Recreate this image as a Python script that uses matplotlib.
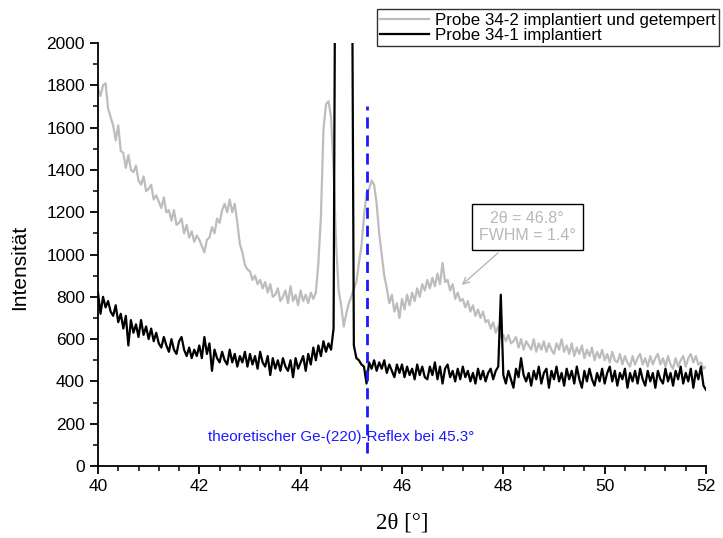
import numpy as np
import matplotlib
matplotlib.use("Agg")
import matplotlib.pyplot as plt

plt.rcParams['font.family'] = ['Liberation Sans', 'DejaVu Sans']

# 2theta grid (degrees)
two_theta = np.round(np.arange(40.0, 52.0001, 0.05), 2)

probe_34_2 = [
    1785, 1750, 1800, 1810, 1690, 1650, 1610, 1540, 1610, 1490,
    1480, 1410, 1470, 1400, 1390, 1420, 1350, 1330, 1370, 1300,
    1310, 1330, 1260, 1280, 1250, 1220, 1270, 1200, 1210, 1160,
    1210, 1140, 1150, 1170, 1100, 1140, 1080, 1110, 1060, 1090,
    1070, 1040, 1010, 1070, 1080, 1130, 1100, 1170, 1150, 1210,
    1240, 1200, 1260, 1200, 1240, 1150, 1050, 1010, 950, 930,
    920, 880, 900, 860, 880, 840, 870, 820, 860, 800,
    810, 840, 780, 800, 830, 770, 850, 780, 810, 760,
    830, 780, 810, 770, 820, 790, 820, 960, 1180, 1590,
    1710, 1725, 1650, 1400, 1050, 830, 760, 660, 720, 770,
    800, 840, 870, 960, 1040, 1180, 1290, 1310, 1350, 1330,
    1240, 1100, 1000, 900, 840, 770, 810, 730, 770, 700,
    790, 740, 810, 760, 820, 780, 840, 800, 860, 830,
    880, 840, 890, 850, 910, 860, 960, 870, 880, 830,
    860, 790, 820, 780, 790, 750, 780, 730, 760, 710,
    740, 700, 730, 680, 690, 650, 680, 630, 660, 610,
    620, 590, 620, 580, 590, 610, 560, 600, 550, 590,
    570, 550, 600, 540, 580, 550, 590, 540, 580, 550,
    530, 580, 550, 600, 540, 570, 530, 580, 520, 560,
    530, 570, 510, 550, 520, 560, 500, 540, 510, 550,
    500, 530, 490, 540, 500, 490, 530, 480, 520, 490,
    470, 520, 480, 510, 530, 480, 510, 470, 520, 480,
    510, 530, 480, 510, 470, 520, 480, 460, 510, 470,
    500, 520, 470, 510, 530, 490, 520, 480, 490, 460,
    470,
]

probe_34_1 = [
    820, 720, 800, 750, 780, 730, 710, 760, 680, 720,
    650, 710, 570, 690, 630, 670, 610, 690, 620, 660,
    600, 650, 590, 630, 580, 560, 610, 570, 540, 600,
    550, 530, 590, 610, 550, 520, 560, 510, 550, 520,
    570, 510, 610, 530, 580, 450, 550, 510, 490, 540,
    500, 480, 550, 490, 530, 470, 520, 490, 540, 470,
    530, 480, 520, 460, 540, 490, 470, 520, 430, 510,
    460, 500, 450, 510, 470, 450, 500, 420, 510, 460,
    490, 520, 450, 530, 480, 560, 500, 570, 520, 590,
    540, 580, 550, 650, 3500, 6000, 8000, 7000, 6500, 5000,
    3200, 570, 510, 500, 480, 470, 390, 490, 460, 500,
    450, 490, 460, 500, 440, 480, 450, 420, 480, 440,
    480, 420, 470, 430, 460, 410, 480, 430, 470, 420,
    410, 470, 430, 490, 410, 470, 390, 460, 480, 420,
    450, 400, 460, 410, 470, 420, 450, 400, 440, 390,
    460, 410, 450, 400, 440, 460, 410, 450, 470, 810,
    430, 390, 450, 410, 370, 460, 420, 510, 430, 400,
    440, 380, 450, 410, 470, 390, 440, 460, 370, 450,
    410, 470, 400, 440, 380, 460, 410, 450, 390, 470,
    410, 370, 450, 400, 460, 410, 380, 440, 400, 460,
    390, 440, 470, 400, 450, 380, 440, 410, 460, 370,
    440, 400, 450, 390, 460, 410, 380, 450, 400, 440,
    370, 450, 410, 390, 460, 400, 440, 380, 450, 410,
    470, 390, 440, 400, 460, 370, 450, 410, 470, 380,
    360,
]

assert len(probe_34_2) == len(two_theta) and len(probe_34_1) == len(two_theta)

label_2 = "Probe 34-2 implantiert und getempert"
label_1 = "Probe 34-1 implantiert"
ref_pos = 45.3
ref_label = "theoretischer Ge-(220)-Reflex bei 45.3°"
anno_text = "2θ = 46.8°\nFWHM = 1.4°"

fig = plt.figure(figsize=(7.23, 5.38), dpi=100)
ax = fig.add_axes([0.1355, 0.1338, 0.841, 0.7862])

l2, = ax.plot(two_theta, probe_34_2, color='#bdbdbd', lw=1.6, label=label_2)
l1, = ax.plot(two_theta, probe_34_1, color='black', lw=1.6, label=label_1)

ax.plot([ref_pos, ref_pos], [60, 1700], color='#1a1aff', lw=2, ls=(0, (4, 2.5)))
ax.text(44.79, 137, ref_label, color='#1a1aff', fontsize=11, ha='center', va='center')

ax.annotate(anno_text, xy=(47.18, 856), xytext=(48.47, 1130),
            color='#b8b8b8', fontsize=11.5, ha='center', va='center',
            bbox=dict(boxstyle='square,pad=0.45', fc='white', ec='black', lw=1),
            arrowprops=dict(arrowstyle='->', color='#b8b8b8', lw=1, shrinkA=2, shrinkB=0))

ax.set_xlim(40, 52)
ax.set_ylim(0, 2000)
ax.set_xticks(np.arange(40, 52.1, 2))
ax.set_xticks(np.arange(40, 52.01, 0.4), minor=True)
ax.set_yticks(np.arange(0, 2001, 200))
ax.set_yticks(np.arange(0, 2001, 100), minor=True)
for s in ['top', 'right']:
    ax.spines[s].set_visible(False)
for s in ['left', 'bottom']:
    ax.spines[s].set_linewidth(1.3)
ax.tick_params(which='major', direction='out', length=6, width=1.3, labelsize=12.5)
ax.tick_params(which='minor', direction='out', length=3.5, width=1.1)

ax.set_ylabel("Intensität", fontsize=15)
ax.yaxis.set_label_coords(-0.113, 0.47)
ax.set_xlabel("2θ [°]", fontsize=16.5, family=['Liberation Serif', 'DejaVu Serif'], labelpad=13)

leg = fig.legend(handles=[l2, l1], loc='upper right', bbox_to_anchor=(0.995, 0.983),
                 fontsize=12.2, frameon=True, fancybox=False, edgecolor='black',
                 handlelength=2.9, borderpad=0.2, labelspacing=0.0, handletextpad=0.35,
                 borderaxespad=0)
leg.get_frame().set_linewidth(1)

fig.savefig("out.png", dpi=100)
